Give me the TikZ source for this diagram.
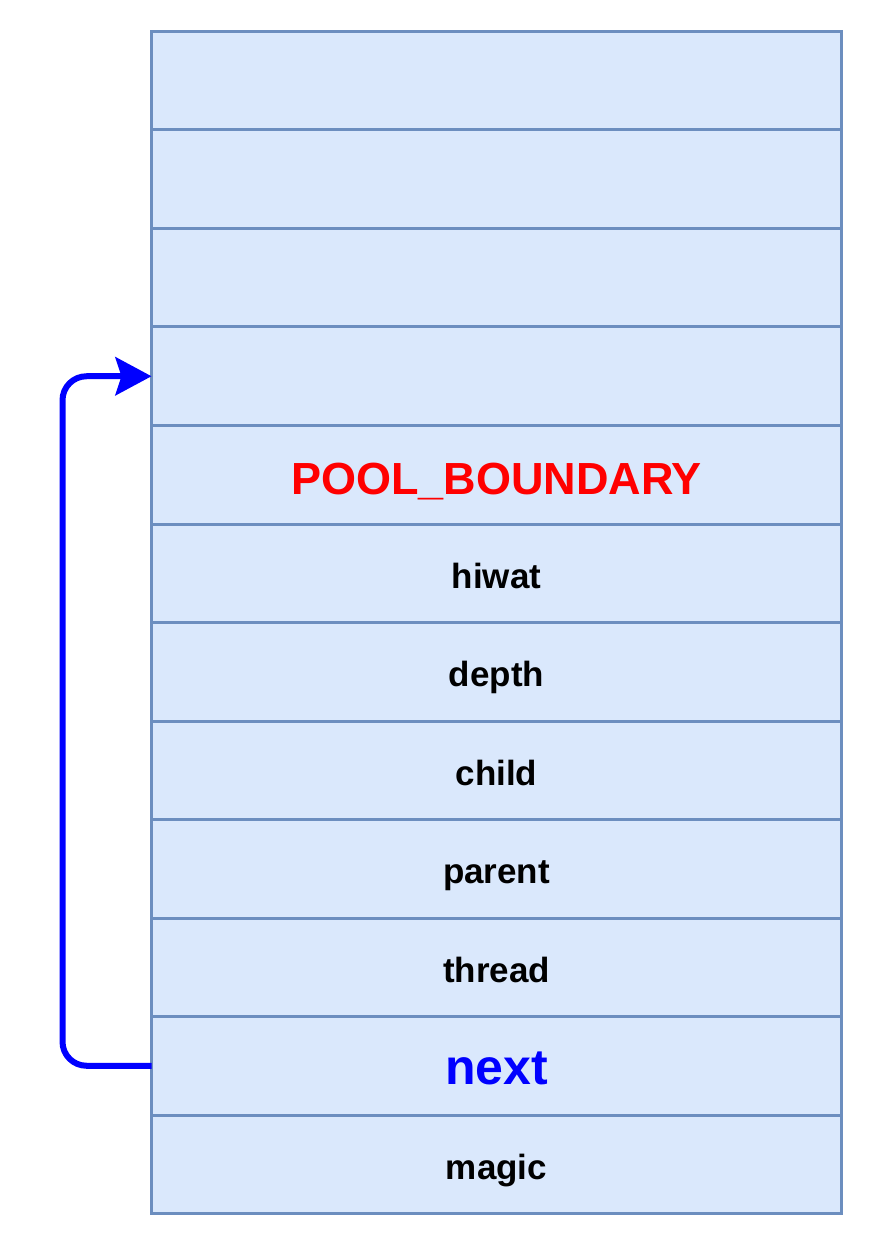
\documentclass[tikz,border=0pt]{standalone}
\usepackage{fontspec}
\setmainfont{Liberation Sans}
\usepackage{tikz}
\usetikzlibrary{positioning, arrows.meta}
\definecolor{cellfill}{HTML}{DAE8FC}
\definecolor{celldraw}{HTML}{6C8EBF}

\begin{document}
\begin{tikzpicture}[x=0.5pt,y=-0.5pt,
  cell/.style={draw=celldraw, fill=cellfill, line width=1.5pt, rectangle,
    minimum width=345pt, minimum height=49.25pt, outer sep=0pt, inner sep=0pt,
    text height=16pt, text depth=1.2pt,
    font=\fontsize{17.5}{21}\selectfont\bfseries},
  flow/.style={-{Stealth[length=18pt, width=19pt, inset=3pt]}, draw=blue,
    line width=3pt, rounded corners=12pt}]
\useasboundingbox (0,0) rectangle (873,1245);
% slots of the pool page
\node[cell] (e1) at (496.5,80.75) {};
\node[cell, below=0pt of e1] (e2) {};
\node[cell, below=0pt of e2] (e3) {};
\node[cell, below=0pt of e3] (e4) {};
\node[cell, below=0pt of e4, text=red, text height=21pt, text depth=0.8pt,
  font=\fontsize{22.5}{27}\selectfont\bfseries] (boundary) {POOL\_BOUNDARY};
\node[cell, below=0pt of boundary] (hiwat) {hiwat};
\node[cell, below=0pt of hiwat] (depth) {depth};
\node[cell, below=0pt of depth] (child) {child};
\node[cell, below=0pt of child] (parent) {parent};
\node[cell, below=0pt of parent] (thread) {thread};
\node[cell, below=0pt of thread, text=blue, text height=22pt, text depth=2.8pt,
  font=\fontsize{25}{30}\selectfont\bfseries] (next) {next};
\node[cell, below=0pt of next] (magic) {magic};
% next pointer
\draw[flow] (next.west) -- ([xshift=-44.5pt]next.west) |- (e4.west);
\end{tikzpicture}
\end{document}
